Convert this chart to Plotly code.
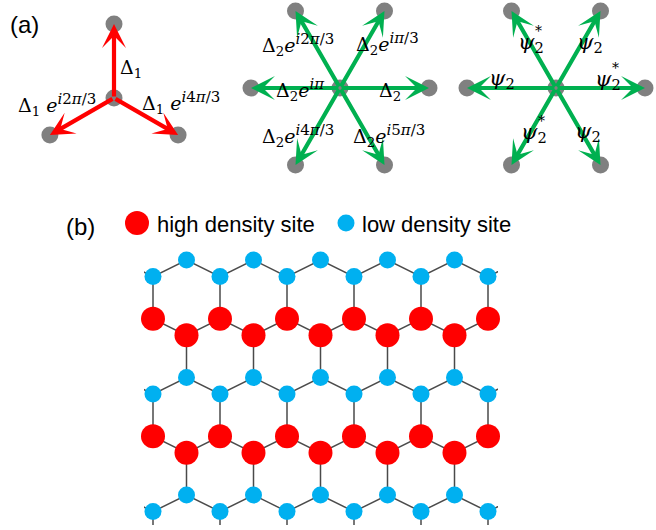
import math
import plotly.graph_objects as go

# ---------------- data ----------------
SUP = '<sup><span style="font-size:15px">{}</span></sup>'
a1_angles = [90, 210, 330]
a1_labels = ["Δ<sub>1</sub>",
             "Δ<sub>1</sub> <i>e</i>" + SUP.format("<i>i</i>2<i>π</i>/3"),
             "Δ<sub>1</sub> <i>e</i>" + SUP.format("<i>i</i>4<i>π</i>/3")]
a2_angles = [0, 60, 120, 180, 240, 300]
a2_labels = ["Δ<sub>2</sub>",
             "Δ<sub>2</sub><i>e</i>" + SUP.format("<i>iπ</i>/3"),
             "Δ<sub>2</sub><i>e</i>" + SUP.format("<i>i</i>2<i>π</i>/3"),
             "Δ<sub>2</sub><i>e</i>" + SUP.format("<i>iπ</i>"),
             "Δ<sub>2</sub><i>e</i>" + SUP.format("<i>i</i>4<i>π</i>/3"),
             "Δ<sub>2</sub><i>e</i>" + SUP.format("<i>i</i>5<i>π</i>/3")]
a3_angles = [0, 60, 120, 180, 240, 300]
a3_labels = ["<i>ψ</i><sub>2</sub>"] * 6
a3_conj = [True, False, True, False, True, False]
chain_types = ["low", "high", "low", "high", "low"]
sites_per_chain = 11
legend_labels = ["high density site", "low density site"]
panel_letters = ["(a)", "(b)"]

# ---------------- styles / layout constants ----------------
W, H = 656, 530
RED, BLUE, GREEN, GRAY, BOND = "#ff0000", "#00b0f0", "#00b050", "#808080", "#4a4a4a"
MATH_FONT = "DejaVu Serif"
SANS = "Liberation Sans, Arial"

panels = [
    dict(c=(114, 98), r=74, angles=a1_angles, labels=a1_labels, color=RED, fs=19,
         offs=[(17, -30), (-57, 6), (67, 4)]),
    dict(c=(340, 88), r=89, angles=a2_angles, labels=a2_labels, color=GREEN, fs=19,
         offs=[(50, 3), (47, -45), (-42, -44), (-40, 1), (-42, 47), (49, 47)]),
    dict(c=(556, 88), r=89, angles=a3_angles, labels=a3_labels, color=GREEN, fs=21,
         offs=[(52, -8), (34, -45), (-25, -45), (-54, -9), (-22, 45), (32, 44)]),
]

fig = go.Figure()
annotations = []

# ---- panel (a) ----
for pi, p in enumerate(panels):
    cx, cy = p["c"]
    xs, ys = [cx], [cy]
    tips = []
    for ang in p["angles"]:
        tx = cx + p["r"] * math.cos(math.radians(ang))
        ty = cy - p["r"] * math.sin(math.radians(ang))
        xs.append(tx); ys.append(ty); tips.append((tx, ty))
    fig.add_trace(go.Scatter(x=xs, y=ys, mode="markers", xaxis="x", yaxis="y",
                             marker=dict(size=17, color=GRAY), hoverinfo="skip",
                             showlegend=False))
    for (tx, ty) in tips:
        annotations.append(dict(x=tx, y=ty, ax=cx, ay=cy, xref="x", yref="y",
                                axref="x", ayref="y", text="", showarrow=True,
                                arrowhead=3, arrowwidth=4.2, arrowsize=0.95,
                                arrowcolor=p["color"], standoff=0))
    for k, lab in enumerate(p["labels"]):
        ox, oy = p["offs"][k]
        annotations.append(dict(x=cx + ox, y=cy + oy, xref="x", yref="y",
                                text=lab, showarrow=False,
                                font=dict(family=MATH_FONT, size=p["fs"], color="black"),
                                xanchor="center", yanchor="middle"))
        if pi == 2 and a3_conj[k]:
            annotations.append(dict(x=cx + ox + 7, y=cy + oy - 12, xref="x", yref="y",
                                    text="*", showarrow=False,
                                    font=dict(family=MATH_FONT, size=14, color="black"),
                                    xanchor="center", yanchor="middle"))

# ---- panel (b): honeycomb lattice ----
X0, DX, Y0, PITCH, AMP = 153, 33.5, 260, 58.75, 16.6
colors = {"high": RED, "low": BLUE}
sizes = {"high": 24, "low": 17}

def site_y(n, j):
    top = Y0 + PITCH * n
    lower = (j % 2 == 0) if n % 2 == 0 else (j % 2 == 1)
    return top + AMP if lower else top

bx, by = [], []
for n in range(len(chain_types)):
    js = list(range(-1, sites_per_chain + 1))
    for j in js:
        bx.append(X0 + DX * j); by.append(site_y(n, j))
    bx.append(None); by.append(None)
    for j in js:
        y = site_y(n, j)
        if y > Y0 + PITCH * n:
            bx += [X0 + DX * j, X0 + DX * j, None]
            by += [y, Y0 + PITCH * (n + 1), None]

fig.add_trace(go.Scatter(x=bx, y=by, mode="lines", xaxis="x2", yaxis="y2",
                         line=dict(color=BOND, width=1.5), hoverinfo="skip",
                         showlegend=False))
for kind in ["low", "high"]:
    sx, sy = [], []
    for n, t in enumerate(chain_types):
        if t != kind:
            continue
        for j in range(sites_per_chain):
            sx.append(X0 + DX * j); sy.append(site_y(n, j))
    fig.add_trace(go.Scatter(x=sx, y=sy, mode="markers", xaxis="x2", yaxis="y2",
                             marker=dict(size=sizes[kind], color=colors[kind]),
                             cliponaxis=False, hoverinfo="skip", showlegend=False))

# ---- legend for (b) ----
leg_pos = [(137, 223, 155), (346, 223, 360)]
for kind, lab, (mx, my, tx) in zip(["high", "low"], legend_labels, leg_pos):
    fig.add_trace(go.Scatter(x=[mx], y=[my], mode="markers", xaxis="x", yaxis="y",
                             marker=dict(size=sizes[kind], color=colors[kind]),
                             hoverinfo="skip", showlegend=False))
    annotations.append(dict(x=tx, y=my + 1, xref="x", yref="y", text=lab,
                            showarrow=False, xanchor="left", yanchor="middle",
                            font=dict(family=SANS, size=22, color="black")))

for lab, (lx, ly) in zip(panel_letters, [(24, 24), (80, 226)]):
    annotations.append(dict(x=lx, y=ly, xref="x", yref="y", text=lab,
                            showarrow=False, xanchor="center", yanchor="middle",
                            font=dict(family=SANS, size=24, color="black")))

ax_common = dict(showgrid=False, zeroline=False, showticklabels=False,
                 ticks="", showline=False, fixedrange=True)
CL, CR, CT, CB = 144, 498, 245, 525
fig.update_layout(
    width=W, height=H, margin=dict(l=0, r=0, t=0, b=0),
    paper_bgcolor="white", plot_bgcolor="rgba(0,0,0,0)",
    xaxis=dict(range=[0, W], domain=[0, 1], **ax_common),
    yaxis=dict(range=[H, 0], domain=[0, 1], **ax_common),
    xaxis2=dict(range=[CL, CR], domain=[CL / W, CR / W], anchor="y2", **ax_common),
    yaxis2=dict(range=[CB, CT], domain=[1 - CB / H, 1 - CT / H], anchor="x2", **ax_common),
    annotations=annotations,
)
fig.write_html("out.html", config={"displayModeBar": False},
               post_script="document.body.style.margin='0';document.body.style.overflow='hidden';")
